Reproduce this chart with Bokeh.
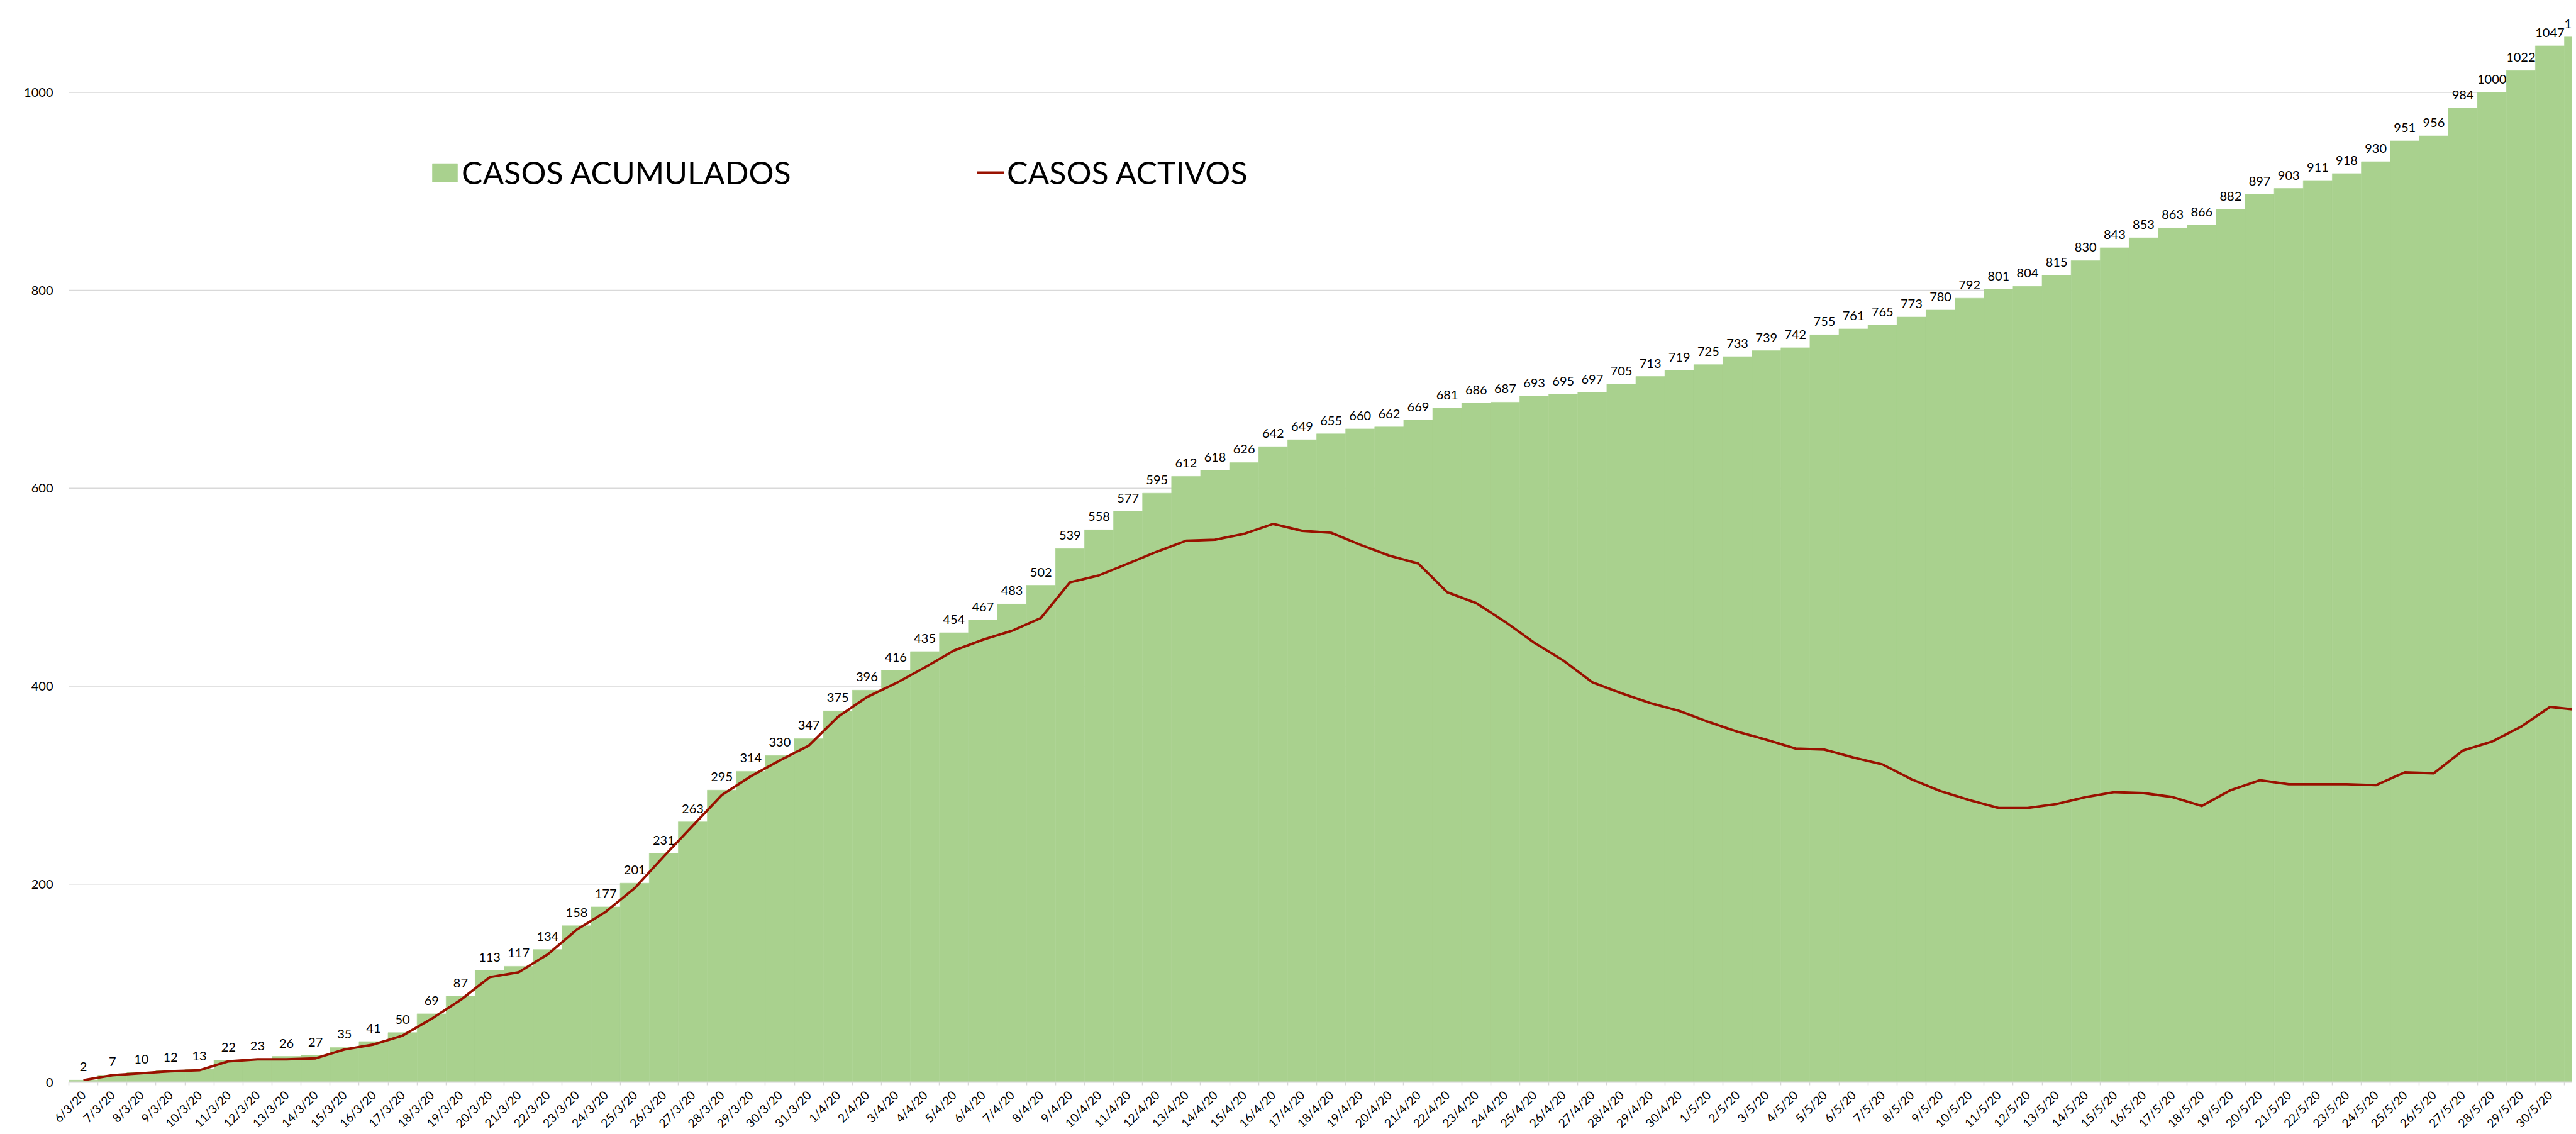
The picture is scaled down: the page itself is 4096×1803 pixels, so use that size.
import math
from bokeh.plotting import figure
from bokeh.models import (ColumnDataSource, Range1d, FixedTicker, LabelSet,
                          Legend, LegendItem)
from bokeh.core.properties import value
from bokeh.embed import file_html
from bokeh.resources import INLINE

fechas = [
    "6/3/20", "7/3/20", "8/3/20", "9/3/20", "10/3/20", "11/3/20", "12/3/20", "13/3/20",
    "14/3/20", "15/3/20", "16/3/20", "17/3/20", "18/3/20", "19/3/20", "20/3/20", "21/3/20",
    "22/3/20", "23/3/20", "24/3/20", "25/3/20", "26/3/20", "27/3/20", "28/3/20", "29/3/20",
    "30/3/20", "31/3/20",
    "1/4/20", "2/4/20", "3/4/20", "4/4/20", "5/4/20", "6/4/20", "7/4/20", "8/4/20", "9/4/20",
    "10/4/20", "11/4/20", "12/4/20", "13/4/20", "14/4/20", "15/4/20", "16/4/20", "17/4/20",
    "18/4/20", "19/4/20", "20/4/20", "21/4/20", "22/4/20", "23/4/20", "24/4/20", "25/4/20",
    "26/4/20", "27/4/20", "28/4/20", "29/4/20", "30/4/20",
    "1/5/20", "2/5/20", "3/5/20", "4/5/20", "5/5/20", "6/5/20", "7/5/20", "8/5/20", "9/5/20",
    "10/5/20", "11/5/20", "12/5/20", "13/5/20", "14/5/20", "15/5/20", "16/5/20", "17/5/20",
    "18/5/20", "19/5/20", "20/5/20", "21/5/20", "22/5/20", "23/5/20", "24/5/20", "25/5/20",
    "26/5/20", "27/5/20", "28/5/20", "29/5/20", "30/5/20", "31/5/20",
]

casos_acumulados = [
    2, 7, 10, 12, 13, 22, 23, 26, 27, 35, 41, 50, 69, 87, 113, 117, 134, 158, 177, 201,
    231, 263, 295, 314, 330, 347,
    375, 396, 416, 435, 454, 467, 483, 502, 539, 558, 577, 595, 612, 618, 626, 642, 649,
    655, 660, 662, 669, 681, 686, 687, 693, 695, 697, 705, 713, 719,
    725, 733, 739, 742, 755, 761, 765, 773, 780, 792, 801, 804, 815, 830, 843, 853, 863,
    866, 882, 897, 903, 911, 918, 930, 951, 956, 984, 1000, 1022, 1047, 1056,
]

casos_activos = [
    2, 7, 9, 11, 12, 21, 23, 23, 24, 33, 38, 47, 64, 83, 106, 111, 129, 154, 172, 196,
    228, 259, 290, 309, 325, 340,
    369, 389, 403, 419, 436, 447, 456, 469, 505, 512, 524, 536, 547, 548, 554, 564, 557,
    555, 543, 532, 524, 495, 484, 465, 444, 426, 404, 393, 383, 375,
    364, 354, 346, 337, 336, 328, 321, 306, 294, 285, 277, 277, 281, 288, 293, 292, 288,
    279, 295, 305, 301, 301, 301, 300, 313, 312, 335, 344, 359, 379, 376,
]

y_ticks = [0, 200, 400, 600, 800, 1000]

FONT = "Lato"
GREEN = "#A9D18E"
RED = "#991100"
GRID = "#D9D9D9"

n = len(fechas)
idx = list(range(n))
src = ColumnDataSource(dict(x=idx, acum=casos_acumulados, activos=casos_activos,
                            lab=[str(v) for v in casos_acumulados]))

# layout (pixels from the figure's top-left corner)
W, H = 4090, 1797
PLOT_LEFT = 109        # left edge of the plot area (first category boundary)
CAT_W = 46.14          # width of one category
ZERO_Y = 1720          # row of the value 0
TOP_VAL_Y = 146.4      # row of the value 1000
PX_PER_UNIT = (ZERO_Y - TOP_VAL_Y) / 1000.0

x_start = -0.5 - PLOT_LEFT / CAT_W
x_end = x_start + W / CAT_W
y_start = -(H - ZERO_Y) / PX_PER_UNIT
y_end = ZERO_Y / PX_PER_UNIT

p = figure(width=W, height=H, output_backend="svg", toolbar_location=None,
           x_range=Range1d(x_start, x_end), y_range=Range1d(y_start, y_end),
           min_border_left=0, min_border_right=0, min_border_top=0,
           min_border_bottom=0)
p.outline_line_color = None
p.background_fill_color = "white"
p.xgrid.visible = False
p.ygrid.visible = False

# horizontal gridlines limited to the plot area
grid = p.segment(x0=[-0.5] * len(y_ticks), x1=[x_end] * len(y_ticks),
                 y0=y_ticks, y1=y_ticks, line_color=GRID, line_width=1.5,
                 level="underlay")

bars = p.vbar(x="x", top="acum", bottom=0, width=1.0, source=src, fill_color=GREEN,
              line_color=GREEN, line_width=0.6)
line = p.line(x="x", y="activos", source=src, line_color=RED, line_width=3.9,
              line_join="round")

labels = LabelSet(x="x", y="acum", text="lab", source=src, text_align="center",
                  text_baseline="alphabetic", y_offset=14, text_font=value(FONT),
                  text_font_size=value("20px"), text_color="#000000")
p.add_layout(labels)

# y axis pinned at the plot area's left edge
p.yaxis.fixed_location = -0.5
p.yaxis.ticker = FixedTicker(ticks=y_ticks)
p.yaxis.axis_line_color = None
p.yaxis.major_tick_line_color = None
p.yaxis.minor_tick_line_color = None
p.yaxis.major_tick_out = 0
p.yaxis.major_tick_in = 0
p.yaxis.major_label_standoff = 25
p.yaxis.major_label_text_font = FONT
p.yaxis.major_label_text_font_size = "20px"
p.yaxis.major_label_text_color = "#000000"

# x axis pinned at value 0, ticks at category boundaries, dates rotated 45 degrees
p.xaxis.fixed_location = 0
p.xaxis.bounds = (-0.5, n - 0.5)
p.xaxis.ticker = FixedTicker(ticks=idx, minor_ticks=[i - 0.5 for i in range(n + 1)])
p.xaxis.major_label_overrides = {i: f for i, f in enumerate(fechas)}
p.xaxis.major_tick_line_color = None
p.xaxis.major_tick_out = 0
p.xaxis.major_tick_in = 0
p.xaxis.minor_tick_out = 5
p.xaxis.minor_tick_in = 0
p.xaxis.minor_tick_line_color = GRID
p.xaxis.minor_tick_line_width = 1.5
p.xaxis.axis_line_color = GRID
p.xaxis.axis_line_width = 2
p.xaxis.major_label_orientation = math.pi / 4
p.xaxis.major_label_standoff = 12
p.xaxis.major_label_text_font = FONT
p.xaxis.major_label_text_font_size = "19px"
p.xaxis.major_label_text_color = "#000000"

# legends
leg1 = Legend(items=[LegendItem(label="CASOS ACUMULADOS", renderers=[bars])],
              location=(682, H - 304), glyph_width=50, glyph_height=36, label_standoff=2)
leg2 = Legend(items=[LegendItem(label="CASOS ACTIVOS", renderers=[line])],
              location=(1553, H - 304), glyph_width=44, glyph_height=36, label_standoff=4)
for lg in (leg1, leg2):
    lg.border_line_color = None
    lg.background_fill_alpha = 0
    lg.padding = 0
    lg.margin = 0
    lg.label_text_font = FONT
    lg.label_text_font_size = "50px"
    lg.label_text_color = "#000000"
    p.add_layout(lg)

open("out.html", "w").write(file_html(p, INLINE))
